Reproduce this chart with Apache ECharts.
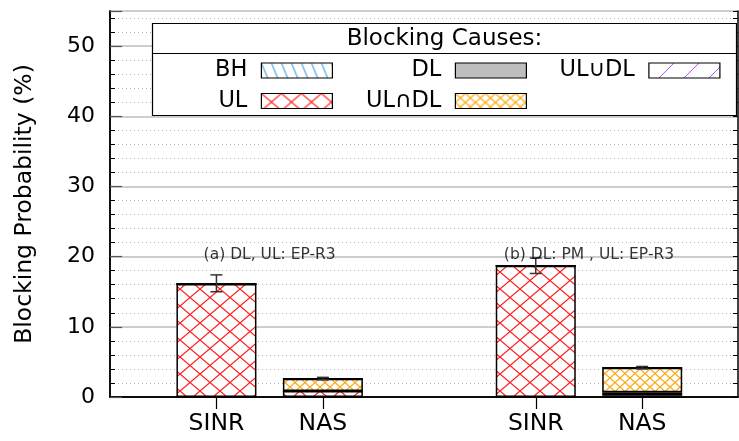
<!DOCTYPE html>
<html>
<head>
<meta charset="utf-8">
<script src="https://cdn.jsdelivr.net/npm/echarts@6/dist/echarts.min.js"></script>
<style>html,body{margin:0;padding:0;background:#fff}#chart{width:739px;height:441px}</style>
</head>
<body>
<div id="chart"></div>
<script>
// ---- data ----
const categories = ['SINR', 'NAS', 'SINR', 'NAS'];
const groupOfBar = [0, 0, 1, 1];
const panelLabels = ['(a) DL, UL: EP-R3', '(b) DL: PM , UL: EP-R3'];
const causeNames = ['BH', 'UL', 'DL', 'UL\u2229DL', 'UL\u222aDL'];
const valBH = [0, 0, 0, 0];
const valUL = [16.1, 0.85, 18.7, 0.25];
const valDL = [0, 0, 0, 0.42];
const valULandDL = [0, 1.75, 0, 3.5];
const valULorDL = [0, 0, 0, 0];
const errLow = [15.0, 2.45, 17.6, 4.0];
const errHigh = [17.4, 2.8, 19.8, 4.35];
const yTicks = [0, 10, 20, 30, 40, 50];

// ---- helpers ----
const FONT = 'DejaVu Sans';
const pos = categories.map((c, i) => i + groupOfBar[i] + 1);
const posToCat = {};
pos.forEach((p, i) => { posToCat[p] = categories[i]; });

function makePattern(w, h, draw) {
  const c = document.createElement('canvas');
  c.width = w; c.height = h;
  const g = c.getContext('2d');
  g.fillStyle = '#fff'; g.fillRect(0, 0, w, h);
  draw(g, w, h);
  return { image: c, repeat: 'repeat' };
}
function cross(color, w, h, lw) {
  return makePattern(w, h, (g) => {
    g.strokeStyle = color; g.lineWidth = lw;
    g.beginPath(); g.moveTo(0, 0); g.lineTo(w, h); g.moveTo(w, 0); g.lineTo(0, h); g.stroke();
  });
}
const fills = {
  'BH': makePattern(10, 24, (g, w, h) => { g.strokeStyle = '#1f8fdf'; g.lineWidth = 1; g.beginPath(); g.moveTo(0, 0); g.lineTo(w, h); g.stroke(); }),
  'UL': cross('#ff1a1a', 20, 17, 1.2),
  'DL': '#bebebe',
  'UL\u2229DL': cross('#ffa500', 10, 9, 1.2),
  'UL\u222aDL': makePattern(25, 25, (g, w, h) => { g.strokeStyle = '#b050f0'; g.lineWidth = 1; g.beginPath(); g.moveTo(0, h); g.lineTo(w, 0); g.stroke(); })
};
const seriesVals = [valBH, valUL, valDL, valULandDL, valULorDL];

// data items are [value, position] so that the value dimension is the stacked one
const barSeries = causeNames.map((name, k) => ({
  name: name,
  type: 'bar',
  stack: 'total',
  xAxisIndex: 0,
  yAxisIndex: 1,
  barWidth: 80,
  encode: { x: 1, y: 0 },
  data: seriesVals[k].map((v, i) => [v, pos[i]]),
  itemStyle: { color: fills[name], borderColor: '#000', borderWidth: 1.5 },
  emphasis: { disabled: true },
  z: 3
}));

const errSeries = {
  type: 'custom',
  xAxisIndex: 0,
  yAxisIndex: 1,
  z: 5,
  data: pos.map((p, i) => [p, errLow[i], errHigh[i]]),
  encode: { x: 0, y: [1, 2] },
  renderItem: function (params, api) {
    const x = api.value(0);
    const a = api.coord([x, api.value(1)]);
    const b = api.coord([x, api.value(2)]);
    const hw = 6;
    const st = { stroke: '#333', lineWidth: 1.5 };
    return {
      type: 'group',
      children: [
        { type: 'line', shape: { x1: a[0], y1: a[1], x2: b[0], y2: b[1] }, style: st },
        { type: 'line', shape: { x1: a[0] - hw, y1: a[1], x2: a[0] + hw, y2: a[1] }, style: st },
        { type: 'line', shape: { x1: b[0] - hw, y1: b[1], x2: b[0] + hw, y2: b[1] }, style: st }
      ]
    };
  }
};

const annoSeries = {
  type: 'scatter',
  xAxisIndex: 0,
  yAxisIndex: 1,
  symbolSize: 0,
  z: 6,
  silent: true,
  data: panelLabels.map((t, g) => [g * 3 + 1.5, 20.3, t]),
  label: { show: true, position: 'inside', formatter: p => p.data[2], fontFamily: FONT, fontSize: 15.5, color: '#000' }
};

// legend layout (one legend per cause)
const legendLayout = {
  'BH': { right: 406, top: 59 },
  'DL': { right: 212, top: 59 },
  'UL\u222aDL': { right: 18.5, top: 59 },
  'UL': { right: 406, top: 89.5 },
  'UL\u2229DL': { right: 212, top: 89.5 }
};
const legends = causeNames.map(n => ({
  data: [n],
  right: legendLayout[n].right,
  top: legendLayout[n].top,
  align: 'right',
  icon: 'rect',
  itemWidth: 71,
  itemHeight: 15,
  padding: 0,
  selectedMode: false,
  z: 10,
  itemStyle: { borderColor: '#000', borderWidth: 1.2 },
  textStyle: { fontFamily: FONT, fontSize: 22.5, color: '#000', lineHeight: 22, padding: [0, 9, 0, 0] }
}));

const axisLineStyle = { color: '#000', width: 1.5 };
const option = {
  animation: false,
  grid: { left: 110, right: 1, top: 11, bottom: 44 },
  xAxis: [
    {
      type: 'value', min: 0, max: 5.9, position: 'bottom',
      axisLine: { show: true, lineStyle: axisLineStyle },
      axisTick: { show: false },
      splitLine: { show: false },
      axisLabel: {
        customValues: pos, formatter: v => posToCat[v] || '',
        fontFamily: FONT, fontSize: 23.5, color: '#000', margin: 15
      }
    },
    {
      type: 'value', min: 0, max: 5.9, position: 'top',
      axisLine: { show: true, lineStyle: axisLineStyle },
      axisTick: { show: true, customValues: pos, inside: true, length: 12, lineStyle: { color: '#000', width: 1.2 } },
      splitLine: { show: false },
      axisLabel: { show: false }
    }
  ],
  yAxis: [
    {
      type: 'value', min: 0, max: 55, interval: 2, position: 'left',
      axisLine: { show: true, lineStyle: axisLineStyle },
      axisTick: { show: true, inside: true, length: 5, lineStyle: { color: '#000', width: 1 } },
      axisLabel: { show: false },
      splitLine: { show: true, lineStyle: { color: '#b5b5b5', width: 1, type: [1, 3] } }
    },
    {
      type: 'value', min: 0, max: 55, interval: 10, position: 'left',
      name: 'Blocking Probability (%)', nameLocation: 'middle', nameRotate: 90, nameGap: 73,
      nameTextStyle: { fontFamily: FONT, fontSize: 23.5, color: '#000' },
      axisLine: { show: true, lineStyle: axisLineStyle },
      axisTick: { show: true, inside: true, length: 12, lineStyle: { color: '#555', width: 1.2 } },
      axisLabel: {
        customValues: yTicks, formatter: v => String(v),
        fontFamily: FONT, fontSize: 22, color: '#000', margin: 15
      },
      splitLine: { show: true, lineStyle: { color: '#c0c0c0', width: 1.5 } }
    },
    {
      type: 'value', min: 0, max: 55, interval: 2, position: 'right',
      axisLine: { show: true, lineStyle: axisLineStyle },
      axisTick: { show: true, inside: true, length: 5, lineStyle: { color: '#000', width: 1 } },
      axisLabel: { show: false },
      splitLine: { show: false }
    }
  ],
  legend: legends,
  graphic: [
    { type: 'rect', z: 8, shape: { x: 152.5, y: 23.5, width: 584, height: 92 }, style: { fill: '#fff', stroke: '#000', lineWidth: 1.2 } },
    { type: 'line', z: 8, shape: { x1: 152.5, y1: 53.5, x2: 736.5, y2: 53.5 }, style: { stroke: '#000', lineWidth: 1.2 } },
    { type: 'text', z: 9, x: 444.5, y: 39.5, style: { text: 'Blocking Causes:', fontFamily: FONT, fontSize: 23, fill: '#000', align: 'center', verticalAlign: 'middle' } }
  ],
  series: barSeries.concat([errSeries, annoSeries])
};

const chart = echarts.init(document.getElementById('chart'), null, { renderer: 'canvas' });
chart.setOption(option);
</script>
</body>
</html>
